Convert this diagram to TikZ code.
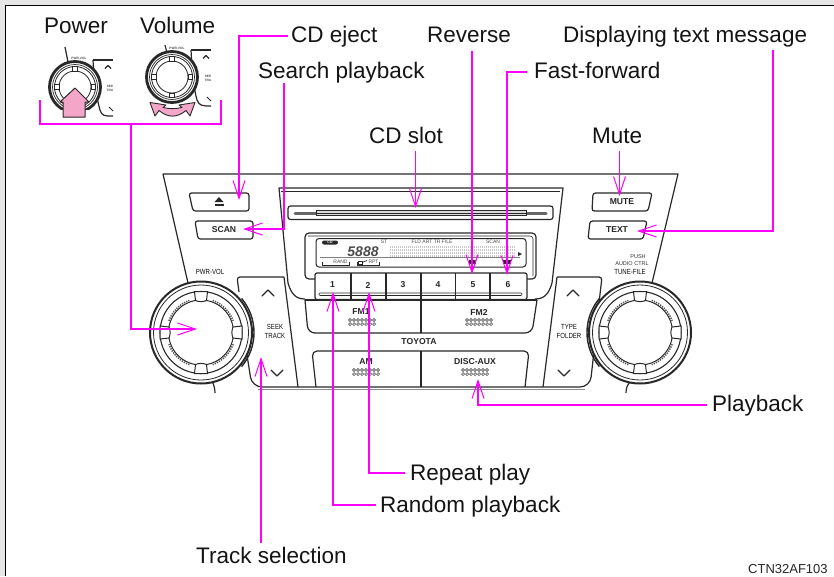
\documentclass[tikz,border=0pt]{standalone}
\usepackage{fontspec}
\setmainfont{Liberation Sans}
\usetikzlibrary{arrows.meta}
\definecolor{callout}{RGB}{255,0,255}
\definecolor{ink}{RGB}{40,40,40}
\definecolor{pinkfill}{RGB}{244,166,200}
\definecolor{framegray}{RGB}{230,230,230}
\tikzset{
  x=1pt,y=-1pt,
  lbl/.style={anchor=base west,inner sep=0pt,font=\fontsize{22.5}{24}\selectfont,text=black!92},
  codelbl/.style={anchor=base west,inner sep=0pt,font=\fontsize{13}{15}\selectfont,text=black!85},
  lead/.style={draw=callout,line width=2pt},
  leadtip/.style={draw=callout,line width=2pt,-{Straight Barb[line width=1pt,length=18pt,width=12pt]}},
  ol/.style={draw=ink,line width=1.2pt,line join=round},
  olf/.style={draw=ink,line width=1.2pt,line join=round,fill=white},
  finel/.style={draw=ink,line width=0.8pt},
  kcap/.style={inner sep=0pt,font=\bfseries\fontsize{8.6}{10}\selectfont,text=black!85},
  capn/.style={inner sep=0pt,font=\fontsize{7.4}{8.2}\selectfont,text=black!95,xscale=0.82},
  tinyl/.style={inner sep=0pt,font=\fontsize{5}{6}\selectfont,text=black!70},
  micro/.style={inner sep=0pt,font=\bfseries\fontsize{3.2}{4}\selectfont,text=black!70},
}
\newcommand{\bigknob}[2]{%
  \begin{scope}[shift={(#1,#2)}]
    \draw[fill=white,draw=ink,line width=2pt] (0,0) circle (51);
    \draw[ink,line width=0.8pt] (0,0) circle (47.5);
    \draw[ink,line width=1.1pt] (0,0) circle (41);
    \draw[ink,line width=1pt] (0,0) circle (32.5);
    \foreach \a in {20,110,200,290}{
      \draw[ink!80,line width=1.5pt,dash pattern=on 1.3pt off 1.1pt] (\a:34.2) arc[start angle=\a,end angle=\a+50,radius=34.2];
    }
    \foreach \a in {0,90,180,270}{
      \begin{scope}[rotate=\a]
        \draw[ink,line width=1pt,fill=white] (32,-5.5) -- (41,-6.5) -- (41,6.5) -- (32,5.5) .. controls (30.5,2) and (30.5,-2) .. cycle;
      \end{scope}
    }
  \end{scope}}
\newcommand{\grille}[2]{%
  \foreach \i in {-3,...,3}{\foreach \j in {-1,1}{
    \draw[ink,line width=0.5pt] (#1+\i*4,#2+\j*2.1) circle (1.5);}}}
\newcommand{\miniknob}[2]{%
  \begin{scope}[shift={(#1,#2)}]
    \draw[fill=white,draw=ink,line width=2.8pt] (0,0) circle (25.5);
    \draw[ink,line width=0.7pt] (0,0) circle (22.5);
    \draw[ink,line width=0.8pt] (0,0) circle (20.5);
    \draw[ink,line width=0.8pt] (0,0) circle (16);
    \foreach \a in {0,90,180,270}{
      \begin{scope}[rotate=\a]
        \draw[ink,line width=0.6pt,fill=white] (16,-2.6) rectangle (20.5,2.6);
      \end{scope}
    }
  \end{scope}}
\begin{document}
\begin{tikzpicture}
\useasboundingbox (0,0) rectangle (834,576);
\fill[framegray] (0,0) rectangle (834,576);
\fill[white] (5,5) rectangle (834,576);
\draw[black,line width=1pt] (5,576) -- (5,5) -- (834,5);

% ---- mini illustrations
\draw[ol] (65,47) -- (68,62);
\draw[ol] (93,60) -- (113,60);
\draw[ol] (93,60) .. controls (94,80) and (97,100) .. (100,110) .. controls (102,116) and (104,116) .. (113,116);
\draw[ol] (105,68.5) -- (108,65.5) -- (111,68.5);
\draw[finel] (109,107) -- (113,111);
\node[micro] (miniPwrA) at (79,58.5) {PWR-VOL};
\node[micro,align=center] (miniSeekA) at (110,88) {SEE\\TRA};
\miniknob{75}{87}
\fill[white] (40,110) rectangle (93,122);
\draw[fill=pinkfill,draw=ink,line width=1pt,line join=round] (75,88) -- (89,102) -- (85,102) -- (85,117) -- (63,117) -- (63,102) -- (60,102) -- cycle;

\draw[ol] (165,45) -- (167,53);
\draw[ol] (191,50) -- (211,50);
\draw[ol] (191,50) .. controls (192,70) and (194,90) .. (197,100) .. controls (199,106) and (203,106) .. (211,106);
\draw[ol] (203,58.5) -- (206,55.5) -- (209,58.5);
\draw[finel] (207,97) -- (211,101);
\node[micro] (miniPwrB) at (177,48) {PWR-VOL};
\node[micro,align=center] (miniSeekB) at (208,78) {SEE\\TRA};
\miniknob{172}{77}
\draw[fill=pinkfill,draw=ink,line width=0.9pt,line join=round]
  (150,102.5) -- (166,105) -- (163,107.5) .. controls (170,109) and (175,109) .. (182,107.5)
  -- (179,105) -- (195,102.5) -- (190,116) -- (186,110.5)
  .. controls (177,118) and (168,118) .. (159,110.5) -- (155,116) -- cycle;

% ---- panel
\draw[ol] (188,283) -- (163,174) -- (678,174) -- (652,283);
% centre cluster
\draw[ol] (288,283) -- (279,188) -- (563,188) -- (552,283)
  .. controls (549,293) and (545,299) .. (535,299);
\draw[ol] (288,283) .. controls (291,293) and (295,299) .. (305,299);
\draw[finel] (281,191) -- (560,191);
% CD slot
\draw[olf,rounded corners=2.5pt] (288,206) rectangle (553,219.5);
\draw[black!60,line width=3pt,line cap=round] (295,213) -- (316,213);
\draw[black!60,line width=3pt,line cap=round] (526,213) -- (546,213);
\draw[ink,line width=0.9pt,fill=black!15] (316,210.5) rectangle (526,215.5);
\draw[ink,line width=0.6pt] (316,213) -- (526,213);
% Display
\draw[olf,rounded corners=4pt] (305,233) rectangle (536,279);
\draw[ink,line width=1pt,rounded corners=3pt] (316,238.5) rectangle (526,267);
\draw[ink,line width=0.6pt,rounded corners=3pt] (308,236) -- (533,236) -- (533,276);
\fill[ink,rounded corners=2pt] (322,240.5) rectangle (338,244.5);
\node[inner sep=0pt,font=\bfseries\fontsize{3.5}{4}\selectfont,text=white] (dispCD) at (330,242.5) {CD};
\node[inner sep=0pt,font=\itshape\bfseries\fontsize{14}{15}\selectfont,text=black!70] (dispNum) at (363,251.5) {5888};
\node[tinyl] (dispST) at (384,242) {ST};
\node[tinyl] (dispFLD) at (432,242) {FLD ART TR FILE};
\node[tinyl] (dispSCAN) at (493,242) {SCAN};
\foreach \y in {247,250,253,256}{
  \draw[black!22,line width=1.5pt,dash pattern=on 1pt off 1pt] (390,\y) -- (515,\y);}
\draw[black!50,line width=1pt] (320,257.5) -- (520,257.5);
\fill[ink] (518,252) -- (522,254) -- (518,256) -- cycle;
\node[tinyl] (dispRAND) at (340.5,261.5) {RAND};
\draw[ink,line width=0.6pt] (322,262) -- (322,265) -- (349,265) -- (349,262);
\node[tinyl] (dispRPT) at (373.5,261.5) {RPT};
\draw[ink,line width=0.6pt] (357,262) -- (357,265) -- (379,265) -- (379,262);
\draw[ink,line width=0.7pt] (358.5,261.5) rectangle (362,264);
\draw[ink,line width=0.7pt] (362,262.5) -- (367,260.5);
\fill[ink] (469,260) rectangle (476,264);
\fill[ink] (503,260) rectangle (511,264);
% Number keys
\draw[olf,rounded corners=2pt] (315,299.5) -- (315,273) -- (527,273) -- (527,299.5) -- cycle;
\foreach \x in {351,386,421,455.5,490}{\draw[ink,line width=1.2pt] (\x,273) -- (\x,299.5);}
\node[kcap] (key1) at (332.5,285) {1};
\node[kcap] (key2) at (368,285) {2};
\node[kcap] (key3) at (403,285) {3};
\node[kcap] (key4) at (438,285) {4};
\node[kcap] (key5) at (473,285) {5};
\node[kcap] (key6) at (508,285) {6};
\draw[ink,line width=0.6pt,rounded corners=1pt] (319,293) rectangle (522,295.5);
% FM row
\draw[ol] (305,300) -- (537,300);
\draw[ol,rounded corners=7pt] (305,300) -- (308,333) -- (532,333) -- (537,300);
\draw[ol] (421,300) -- (421,333);
\node[kcap] (capFMa) at (361,312) {FM1};
\node[kcap] (capFMb) at (479,312) {FM2};
\grille{362}{322}
\grille{479}{322}
\node[kcap] (capToyota) at (419,342) {TOYOTA};
% AM row
\draw[ol,rounded corners=5pt] (316,387) -- (312,351) -- (529,351) -- (525,387);
\draw[ol] (421,351) -- (421,387);
\node[kcap] (capAM) at (366,362) {AM};
\node[kcap] (capDISC) at (475,362) {DISC-AUX};
\grille{366}{372}
\grille{475}{372}
% Seek and Type panels
\draw[ol] (284,277) -- (298,387);
\draw[ol,rounded corners=3pt] (284,277) -- (237,277) -- (239,292);
\draw[ol,rounded corners=10pt] (247,355) -- (252,387) -- (590,387) -- (593,360);
\draw[black!45,line width=0.8pt] (258,389.5) -- (585,389.5);
\draw[ol] (557,277) -- (543,387);
\draw[ol,rounded corners=3pt] (557,277) -- (602,277) -- (597,320);
\draw[ol] (593,360) -- (597,320);
\draw[ol,line cap=round] (262,296) -- (268,290) -- (274,296);
\draw[ol,line cap=round] (271,370) -- (277,376) -- (283,370);
\draw[ol,line cap=round] (567,296) -- (573,290) -- (579,296);
\draw[ol,line cap=round] (558,370) -- (564,376) -- (570,370);
\node[capn,align=center] (capSeek) at (275,331.5) {SEEK\\TRACK};
\node[capn,align=center] (capType) at (569,331.5) {TYPE\\FOLDER};
% Knobs
\draw[ol] (212,381) .. controls (214,385) and (215,389) .. (215,393);
\draw[ol] (630,382) .. controls (627,385) and (626,389) .. (626,393);
\bigknob{201}{332.5}
\draw[ink,line width=1.4pt] (201,332.5) ++(-40:53) arc[start angle=-40,end angle=40,radius=53];
\bigknob{640}{332.5}
\draw[ink,line width=1.4pt] (640,332.5) ++(140:53) arc[start angle=140,end angle=220,radius=53];
\node[capn] (capPwr) at (210,272) {PWR-VOL};
\node[inner sep=0pt,font=\fontsize{5.5}{6}\selectfont,text=black!80] (capPush) at (638,257) {PUSH};
\node[inner sep=0pt,font=\fontsize{5.5}{6}\selectfont,text=black!80] (capAudio) at (632,263.5) {AUDIO CTRL};
\node[capn] (capTune) at (630,272) {TUNE-FILE};
% Buttons
\draw[olf,rounded corners=2.5pt] (189,193) -- (249,193) -- (249,211) -- (193,211) -- cycle;
\draw[olf,rounded corners=2.5pt] (195,221) -- (253,221) -- (253,239) -- (198,239) -- cycle;
\draw[olf,rounded corners=2.5pt] (593,193) -- (652,193) -- (648,211) -- (592,211) -- cycle;
\draw[olf,rounded corners=2.5pt] (590,221) -- (647,221) -- (643,239) -- (588,239) -- cycle;
\fill[ink] (219,197) -- (223.5,202) -- (214.5,202) -- cycle;
\fill[ink] (214.5,203.5) rectangle (223.5,205.5);
\node[kcap] (capScan) at (224,230) {SCAN};
\node[kcap] (capMute) at (622,202) {MUTE};
\node[kcap] (capText) at (617,230) {TEXT};

% ---- labels
\node[lbl] (lPower) at (44,33) {Power};
\node[lbl] (lVolume) at (140,33) {Volume};
\node[lbl] (lEject) at (291,42) {CD eject};
\node[lbl] (lReverse) at (427,42) {Reverse};
\node[lbl] (lDisplay) at (563,42) {Displaying text message};
\node[lbl] (lSearch) at (258,78.5) {Search playback};
\node[lbl] (lFF) at (534,78.5) {Fast-forward};
\node[lbl] (lSlot) at (369,143.5) {CD slot};
\node[lbl] (lMute) at (592,143.5) {Mute};
\node[lbl] (lPlayback) at (712,411) {Playback};
\node[lbl] (lRepeat) at (410,480.5) {Repeat play};
\node[lbl] (lRandom) at (380,512.5) {Random playback};
\node[lbl] (lTrack) at (196,563) {Track selection};
\node[codelbl] (lCode) at (748,573) {CTN32AF103};

% ---- connector anchors
\coordinate (bracketL) at (40,100);
\coordinate (bracketR) at (221,100);
\coordinate (bracketMid) at (130.7,124);
\coordinate (tPower) at (197,329);
\coordinate (tEject) at (239,200);
\coordinate (jEject) at (288,35.5);
\coordinate (tSearch) at (243,229);
\coordinate (jSearch) at (284,83);
\coordinate (tSlot) at (415.5,208);
\coordinate (jSlot) at (415.5,151);
\coordinate (tReverse) at (472,274);
\coordinate (jReverse) at (472,51);
\coordinate (tFF) at (507,275);
\coordinate (jFF) at (527,71.5);
\coordinate (tMute) at (619.5,196);
\coordinate (jMute) at (619.5,151);
\coordinate (tText) at (637,231);
\coordinate (jText) at (773,50);
\coordinate (tOne) at (333,292);
\coordinate (jOne) at (376,505);
\coordinate (tTwo) at (369,292);
\coordinate (jTwo) at (405,473);
\coordinate (tTrack) at (261,357);
\coordinate (jTrack) at (261,543);
\coordinate (tPlay) at (478,379);
\coordinate (jPlay) at (707,405);

\draw[lead] (bracketL) |- (bracketMid) -| (bracketR);
\draw[leadtip] (bracketMid) |- (tPower);
\draw[leadtip] (jEject) -| (tEject);
\draw[leadtip] (jSearch) |- (tSearch);
\draw[leadtip,line width=1.5pt] (jSlot) -- (tSlot);
\draw[leadtip,line width=1.5pt] (jReverse) -- (tReverse);
\draw[leadtip] (jFF) -| (tFF);
\draw[leadtip,line width=1.5pt] (jMute) -- (tMute);
\draw[leadtip] (jText) |- (tText);
\draw[leadtip] (jOne) -| (tOne);
\draw[leadtip] (jTwo) -| (tTwo);
\draw[leadtip] (jTrack) -- (tTrack);
\draw[leadtip] (jPlay) -| (tPlay);
\end{tikzpicture}
\end{document}
